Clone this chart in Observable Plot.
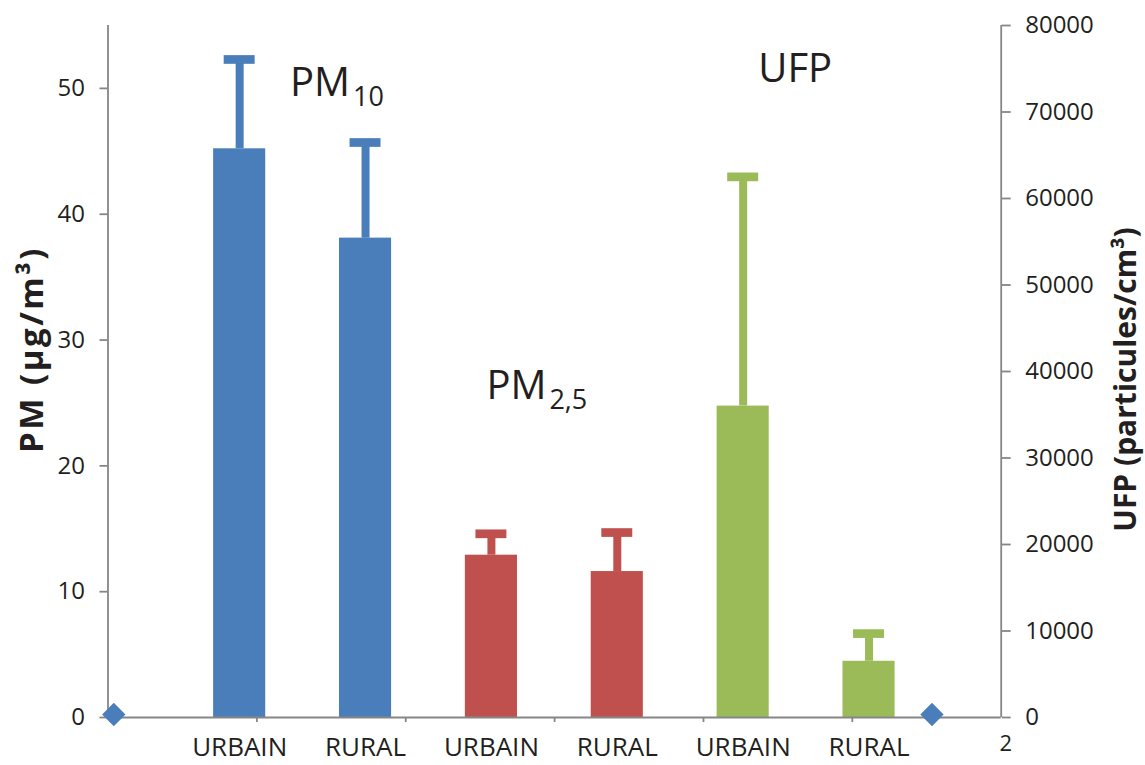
<!DOCTYPE html>
<html>
<head>
<meta charset="utf-8">
<script src="https://cdn.jsdelivr.net/npm/d3@7"></script>
<script src="https://cdn.jsdelivr.net/npm/@observablehq/plot@0.6"></script>
<style>
  html, body { margin: 0; padding: 0; background: #ffffff; }
  #chart svg { display: block; }
</style>
</head>
<body>
<div id="chart"></div>
<script>
// ---- data ----
const categories = ["URBAIN", "RURAL", "URBAIN", "RURAL", "URBAIN", "RURAL"];
const pollutants = ["PM10", "PM10", "PM2,5", "PM2,5", "UFP", "UFP"];
// PM values in µg/m³ (left axis)
const pmMeans   = [45.2, 38.1, 12.9, 11.6];
const pmErrTop  = [52.3, 45.7, 14.6, 14.7];
// UFP values in particules/cm³ (right axis)
const ufpMeans  = [36000, 6500];
const ufpErrTop = [62500, 9700];
// marker series (blue diamonds on the baseline)
const markerX = [0, 6.5];
const markerY = [0, 0];
const pmTicks  = [0, 10, 20, 30, 40, 50];
const ufpTicks = [0, 10000, 20000, 30000, 40000, 50000, 60000, 70000, 80000];
const annotations = [
  {main: "PM", sub: "10",  x: 1.40, y: 49.4},
  {main: "PM", sub: "2,5", x: 2.96, y: 25.3},
  {main: "UFP", sub: "",   x: 5.12, y: 50.5}
];

// ---- scales setup ----
const PM_MAX = 55, UFP_MAX = 80000;
const toPM = v => v * PM_MAX / UFP_MAX;
const fromPM = v => v * UFP_MAX / PM_MAX;
const palette = {"PM10": "#4a7ebb", "PM2,5": "#c0504d", "UFP": "#9bbb59"};
const xDomain = [-0.046, 7.05];
// category boundaries: six equal slots across the horizontal axis
const slotBounds = d3.range(1, 6).map(k => xDomain[0] + k * (xDomain[1] - xDomain[0]) / 6);

const rows = categories.map((c, k) => {
  const isUfp = pollutants[k] === "UFP";
  const j = k - 4;
  return {
    i: k + 1,
    cat: c,
    group: pollutants[k],
    v: isUfp ? toPM(ufpMeans[j]) : pmMeans[k],
    hi: isUfp ? toPM(ufpErrTop[j]) : pmErrTop[k],
    color: palette[pollutants[k]]
  };
});
const markers = markerX.map((x, k) => ({x, y: markerY[k]}));

const axisGray = "#868686";
const textCol = "#231f20";
const halfBar = 0.207, halfCap = 0.123;

const chart = Plot.plot({
  width: 1145,
  height: 765,
  marginLeft: 107.5,
  marginRight: 144.3,
  marginTop: 25,
  marginBottom: 48,
  style: {fontFamily: "'Open Sans', sans-serif", color: textCol, background: "#ffffff", overflow: "visible"},
  x: {domain: xDomain, axis: null},
  y: {domain: [0, PM_MAX], axis: null},
  color: {type: "identity"},
  marks: [
    Plot.rectY(rows, {x1: d => d.i - halfBar, x2: d => d.i + halfBar, y1: 0, y2: "v", fill: "color"}),
    Plot.ruleX(rows, {x: "i", y1: "v", y2: "hi", stroke: "color", strokeWidth: 8}),
    Plot.ruleY(rows, {x1: d => d.i - halfCap, x2: d => d.i + halfCap, y: "hi", stroke: "color", strokeWidth: 8.7}),
    // axis lines
    Plot.ruleX(xDomain, {stroke: axisGray, strokeWidth: 1.8}),
    Plot.ruleY([0], {stroke: axisGray, strokeWidth: 1.8}),
    // small category-boundary ticks under the baseline
    Plot.ruleX(slotBounds, {y1: 0, y2: -0.4, stroke: axisGray, strokeWidth: 1.8}),
    // left axis
    Plot.axisY({anchor: "left", ticks: pmTicks, tickSize: 8, tickPadding: 15, fontSize: 24,
      stroke: axisGray, strokeWidth: 1.8, fill: textCol, label: null}),
    // right axis (UFP, mapped onto the same vertical scale)
    Plot.axisY({anchor: "right", ticks: ufpTicks.map(toPM), tickFormat: d => String(Math.round(fromPM(d))),
      tickSize: 9, tickPadding: 15, fontSize: 24, stroke: axisGray, strokeWidth: 1.8, fill: textCol, label: null}),
    // category labels
    Plot.axisX({ticks: rows.map(d => d.i), tickFormat: i => categories[i - 1], tickSize: 0, tickPadding: 20,
      fontSize: 26, fill: textCol, label: null}),
    // marker series
    Plot.dot(markers, {x: "x", y: "y", symbol: "diamond2", r: 10.5, fill: "#4a7ebb", stroke: "none", dy: -3}),
    // annotations
    Plot.text(annotations, {x: "x", y: "y", text: "main", textAnchor: "start", lineAnchor: "bottom",
      fontSize: 40, fill: textCol}),
    // axis titles
    Plot.text(["PM (µg/m³)"], {frameAnchor: "left", textAnchor: "middle", dx: -76, dy: -22, rotate: -90,
      fontSize: 33, fontWeight: "bold", fill: textCol}),
    Plot.text(["UFP (particules/cm³)"], {frameAnchor: "right", textAnchor: "middle", dx: 125, dy: 8, rotate: -90,
      fontSize: 30, fontWeight: "bold", fill: textCol}),
    Plot.text(["2"], {frameAnchor: "bottom-right", dx: 11, dy: 33, fontSize: 22, fill: textCol})
  ]
});

// subscripts for the annotations, letter spacing for the left axis title
const svg = d3.select(chart);
let k = 0;
svg.selectAll("text").each(function() {
  const t = this.textContent;
  if (k < annotations.length && t === annotations[k].main) {
    const a = annotations[k++];
    if (a.sub) d3.select(this).append("tspan").attr("font-size", 27).attr("dx", 3).attr("dy", 10).text(a.sub);
  } else if (t === "PM (µg/m³)") {
    d3.select(this).attr("letter-spacing", 2.5);
  }
});

document.getElementById("chart").appendChild(chart);
</script>
</body>
</html>
